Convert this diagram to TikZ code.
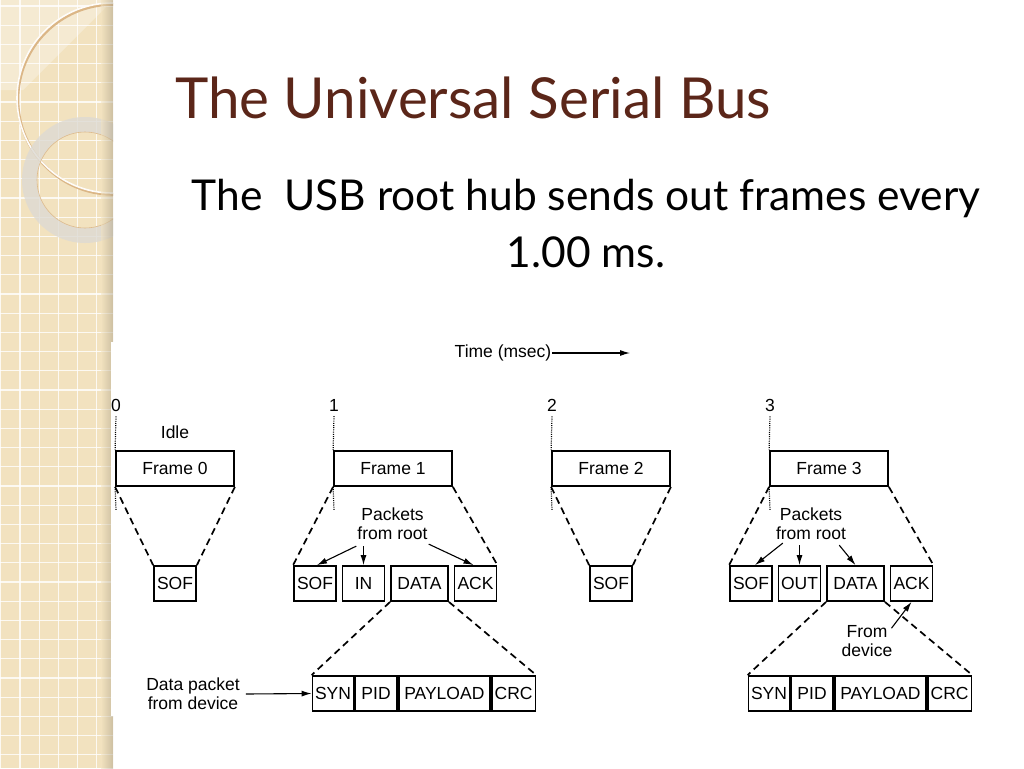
\documentclass[tikz,border=0pt]{standalone}
\usepackage{fontspec}
\setmainfont{Liberation Sans}
\newfontfamily\slidefont{Lato}
\usetikzlibrary{positioning,arrows.meta}
\definecolor{bandbeige}{HTML}{F2E2BF}
\definecolor{titlered}{HTML}{5B2619}
\definecolor{ringgray}{HTML}{DDDAD3}
\tikzset{
  pkt/.style={draw,line width=1.8pt,minimum height=35pt,minimum width=42pt,inner sep=0pt,font=\fontsize{17.5}{18}\selectfont},
  framebox/.style={pkt,minimum width=118pt},
  zoomline/.style={line width=1.7pt,dash pattern=on 7pt off 4.5pt},
  tick/.style={line width=1.2pt,dash pattern=on 1pt off 1.2pt},
  lbl/.style={font=\fontsize{17.5}{19}\selectfont,align=center,inner sep=1pt},
  arr/.style={-{Latex[length=10pt,width=6pt]},line width=1.1pt},
}
\begin{document}
\begin{tikzpicture}[x=1pt,y=-1pt]
  \useasboundingbox (0,0) rectangle (1024,768);
  % left band
  \fill[bandbeige] (0,0) rectangle (113,768);
  \fill[white,opacity=.3] (0,0) -- (113,0) -- (23,90) -- (0,90) -- cycle;
  \foreach \k in {0,...,5}
    \draw[white,line width=1.3pt,opacity=.8] ({0.8+19.2*\k},0) -- ({0.8+19.2*\k},768);
  \foreach \k in {0,...,39}
    \draw[white,line width=1.3pt,opacity=.8] (0,{6+19.2*\k}) -- (113,{6+19.2*\k});
  \begin{scope}
    \clip (0,0) rectangle (113,768);
    \draw[line width=2.6pt,bandbeige!55!brown] (113,99.5) circle[radius=95];
    \draw[line width=1.6pt,white!90!bandbeige] (112,98) circle[radius=95];
    \fill[ringgray,opacity=.8,even odd rule] (85,180) circle[radius=63] (85,180) circle[radius=48];
    \draw[line width=.6pt,bandbeige!60!brown] (85,180) circle[radius=48];
  \end{scope}
  \shade[left color=bandbeige,right color=bandbeige!70!black,opacity=.5] (101,0) rectangle (113,768);
  \fill[white] (111,342) rectangle (1024,716);

  % title and text
  \node[anchor=base west,inner sep=0pt,text=titlered,font=\slidefont\fontsize{56.5}{60}\selectfont] (title) at (175,118) {The Universal Serial Bus};
  \node[anchor=north,inner sep=0pt,align=center,font=\slidefont\fontsize{42.5}{57}\selectfont] (sub) at (586,179) {The\ \ USB root hub sends out frames every\\1.00 ms.};

  % time axis
  \node[lbl] (tm) at (503,353) {Time (msec)};
  \coordinate (tend) at (630,353);
  \draw[arr] (tm.east) -- (tend);

  % frames
  \foreach \i in {0,...,3} {
    \node[framebox] (f\i) at ({175+218*\i},468.5) {Frame \i};
    \node[lbl] (n\i) at ({116+218*\i},405) {\i};
    \coordinate (e\i) at ({116+218*\i},510);
    \draw[tick] ([yshift=-4pt]n\i.south) -- (f\i.north west);
    \draw[tick] (f\i.south west) -- (e\i);
  }
  \node[lbl] (idle) at (175,432) {Idle};

  % packets
  \node[pkt] (s0) at (175,583.5) {SOF};
  \node[pkt] (s1) at (315,583.5) {SOF};
  \node[pkt,right=4.7pt of s1] (i1) {IN};
  \node[pkt,minimum width=57pt,right=4.7pt of i1] (d1) {DATA};
  \node[pkt,right=4.7pt of d1] (a1) {ACK};
  \node[pkt] (s2) at (611,583.5) {SOF};
  \node[pkt] (s3) at (751,583.5) {SOF};
  \node[pkt,right=4.7pt of s3] (o3) {OUT};
  \node[pkt,minimum width=57pt,right=4.7pt of o3] (d3) {DATA};
  \node[pkt,right=4.7pt of d3] (a3) {ACK};

  % data packets
  \foreach \i/\x in {1/333,3/769} {
    \node[pkt,minimum width=41pt] (y\i) at (\x,693.5) {SYN};
    \node[pkt,minimum width=41.5pt,right=0pt of y\i] (p\i) {PID};
    \node[pkt,minimum width=91.5pt,right=0pt of p\i] (l\i) {PAYLOAD};
    \node[pkt,minimum width=43.5pt,right=0pt of l\i] (c\i) {CRC};
    \draw[zoomline] (d\i.south west) -- (y\i.north west);
    \draw[zoomline] (d\i.south east) -- (c\i.north east);
  }

  % zoom lines
  \draw[zoomline] (f0.south west) -- (s0.north west);
  \draw[zoomline] (f0.south east) -- (s0.north east);
  \draw[zoomline] (f1.south west) -- (s1.north west);
  \draw[zoomline] (f1.south east) -- (a1.north east);
  \draw[zoomline] (f2.south west) -- (s2.north west);
  \draw[zoomline] (f2.south east) -- (s2.north east);
  \draw[zoomline] (f3.south west) -- (s3.north west);
  \draw[zoomline] (f3.south east) -- (a3.north east);

  % labels
  \node[lbl] (pr1) at (392.5,524) {Packets\\from root};
  \node[lbl] (pr3) at (811,524) {Packets\\from root};
  \node[lbl] (dp) at (193,694) {Data packet\\from device};
  \node[lbl] (fd) at (867,641) {From\\device};

  \draw[arr] ([yshift=-5pt]pr1.south west) -- ([xshift=2pt]s1.north);
  \draw[arr] ([yshift=-5pt]pr1.south -| i1.north) -- (i1.north);
  \draw[arr] ([yshift=-3pt]pr1.south east) -- ([xshift=-2pt]a1.north);
  \draw[arr] ([xshift=8pt,yshift=-2pt]pr3.south west) -- ([xshift=4pt]s3.north);
  \draw[arr] ([yshift=-4pt]pr3.south -| o3.north) -- (o3.north);
  \draw[arr] ([xshift=-8pt,yshift=-4pt]pr3.south east) -- (d3.north);
  \draw[arr] ([xshift=-2pt,yshift=-4pt]fd.north east) -- (a3.south);
  \draw[arr] ([xshift=5pt]dp.east) -- (y1.west);
\end{tikzpicture}
\end{document}
